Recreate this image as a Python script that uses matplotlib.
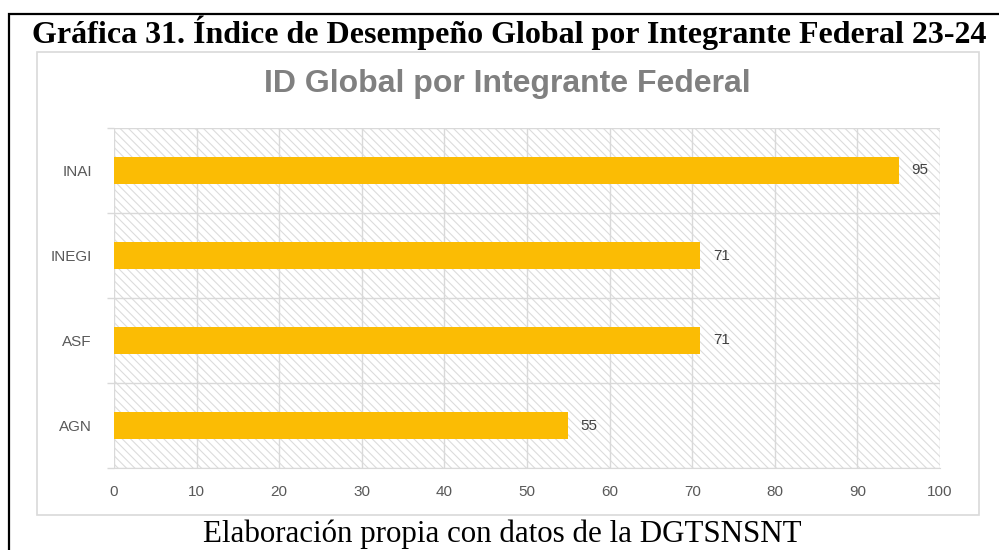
import numpy as np
import matplotlib.pyplot as plt
from matplotlib.patches import Rectangle

plt.rcParams['font.family'] = ['Liberation Sans', 'DejaVu Sans']
plt.rcParams['hatch.linewidth'] = 0.8

categories = ['INAI', 'INEGI', 'ASF', 'AGN']
values = [95, 71, 71, 55]
x_ticks = [0, 10, 20, 30, 40, 50, 60, 70, 80, 90, 100]

W, H = 999, 550
fig = plt.figure(figsize=(W / 100, H / 100), dpi=100)

# outer black frame of the document figure
fig.add_artist(Rectangle((8.5 / W, -0.05), 1.1, 1 - 13.5 / H + 0.05,
                         transform=fig.transFigure, fill=False,
                         edgecolor='black', linewidth=1.6))
# light grey chart area frame
fig.add_artist(Rectangle((37 / W, 1 - 515 / H), (979 - 37) / W, (515 - 52) / H,
                         transform=fig.transFigure, fill=False,
                         edgecolor='#d9d9d9', linewidth=1.2))

fig.text(509 / W, 1 - 33 / H,
         'Gráfica 31. Índice de Desempeño Global por Integrante Federal 23-24',
         family='Liberation Serif', weight='bold', fontsize=23,
         ha='center', va='center')
fig.text(507 / W, 1 - 84 / H, 'ID Global por Integrante Federal',
         weight='bold', fontsize=23, color='#808080',
         ha='center', va='center')
fig.text(502 / W, 1 - 534 / H, 'Elaboración propia con datos de la DGTSNSNT',
         family='Liberation Serif', fontsize=22.3,
         ha='center', va='center')

ax = fig.add_axes([114 / W, 1 - 468 / H, 826 / W, 340 / H])

pos = np.arange(len(categories))[::-1]
ax.add_patch(Rectangle((0, 0), 1, 1, transform=ax.transAxes,
                       facecolor='white', edgecolor='#dcdcdc',
                       linewidth=0, hatch='\\\\\\\\', zorder=0))
bars = ax.barh(pos, values, height=0.31, color='#FBBC04', zorder=3)

for p, v in zip(pos, values):
    ax.annotate(str(v), (v, p), xytext=(9, 0), textcoords='offset points',
                va='center', ha='left', fontsize=11, color='#404040')

ax.set_xlim(0, 100)
ax.set_ylim(-0.5, 3.5)
ax.set_xticks(x_ticks)
ax.set_yticks(pos)
ax.set_yticklabels(categories)
ax.set_yticks(np.arange(-0.5, 4, 1), minor=True)

ax.grid(axis='x', which='major', color='#d9d9d9', linewidth=1, zorder=1)
ax.grid(axis='y', which='minor', color='#d9d9d9', linewidth=1, zorder=1)
ax.tick_params(axis='x', length=0, pad=12, labelsize=11, labelcolor='#595959')
ax.tick_params(axis='y', which='major', length=0, pad=16, labelsize=11,
               labelcolor='#595959')
ax.tick_params(axis='y', which='minor', length=5, color='#d9d9d9', width=1)
for s in ax.spines.values():
    s.set_visible(False)
ax.spines['bottom'].set_visible(True)
ax.spines['bottom'].set_color('#d9d9d9')

fig.savefig('out.png', dpi=100)
